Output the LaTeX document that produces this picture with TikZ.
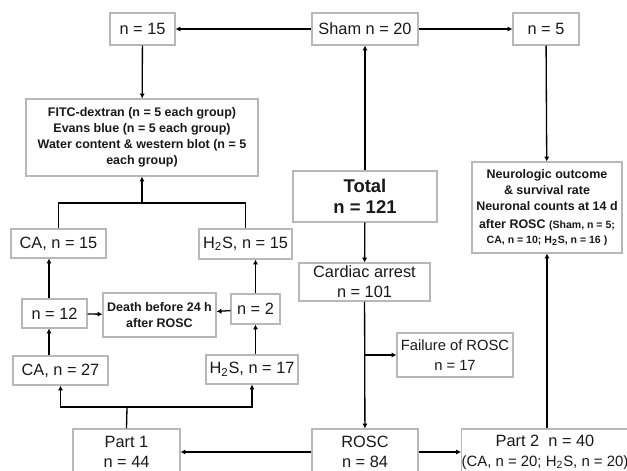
\documentclass[tikz,border=0pt]{standalone}
\usepackage{fontspec}
\setmainfont{Liberation Sans}
\usetikzlibrary{positioning,arrows.meta}
\tikzset{
  flowarrow/.style={-{Latex[length=2.8pt,width=3pt]}, line width=0.75pt},
  flowline/.style={line width=0.75pt},
  countbox/.style={draw=black!28, line width=0.6pt, fill=white, inner sep=0pt, align=center, text=black!90, font=\fontsize{9.3}{11.3}\selectfont},
  detailbox/.style={countbox, font=\bfseries\fontsize{7.1}{9.1}\selectfont},
  totalbox/.style={countbox, font=\bfseries\fontsize{10.5}{11.8}\selectfont}
}
\newcommand{\hts}{H\textsubscript{2}S}

\begin{document}
\begin{tikzpicture}[x=0.02cm, y=-0.02cm]
  \useasboundingbox (0,0) rectangle (627,471);
  % sham arm
  \node[countbox, minimum width=1.3cm, minimum height=0.64cm] (shamleft) at (142.5,29) {n = 15};
  \node[countbox, minimum width=2.12cm, minimum height=0.64cm] (sham) at (365,29) {Sham n = 20};
  \node[countbox, minimum width=1.32cm, minimum height=0.64cm] (shamright) at (546,29) {n = 5};
  \node[detailbox, minimum width=4.64cm, minimum height=1.54cm] (assays) at (142,137.5) {FITC-dextran (n = 5 each group)\\ Evans blue (n = 5 each group)\\ Water content \& western blot (n = 5\\ each group)};
  \node[totalbox, minimum width=2.88cm, minimum height=1.02cm] (total) at (365,196.5) {Total\\ n = 121};
  \node[detailbox, minimum width=3.0cm, minimum height=1.82cm] (outcome) at (547,207.5) {Neurologic outcome\\ \& survival rate\\ Neuronal counts at 14 d\\[1.4pt] after ROSC {\fontsize{6}{7}\selectfont (Sham, n = 5;}\\[-1pt] {\fontsize{6}{7.5}\selectfont CA, n = 10; \hts, n = 16 )}};
  % part 1 groups
  \node[countbox, minimum width=1.9cm, minimum height=0.58cm] (caend) at (58.5,243.5) {CA, n = 15};
  \node[countbox, minimum width=1.86cm, minimum height=0.6cm] (hsend) at (245.5,244) {\hts, n = 15};
  \node[countbox, minimum width=2.62cm, minimum height=0.76cm] (arrest) at (364.5,282) {Cardiac arrest\\ n = 101};
  \node[countbox, minimum width=1.3cm, minimum height=0.58cm] (camid) at (54.5,313.5) {n = 12};
  \node[detailbox, font=\bfseries\fontsize{7.1}{8.6}\selectfont, minimum width=2.26cm, minimum height=0.88cm] (death) at (159.5,315) {Death before 24 h\\ after ROSC};
  \node[countbox, minimum width=0.98cm, minimum height=0.6cm] (hsmid) at (255.5,309) {n = 2};
  \node[countbox, font=\fontsize{8.4}{11.3}\selectfont, minimum width=2.32cm, minimum height=0.88cm] (failure) at (455,355) {Failure of ROSC\\ n = 17};
  \node[countbox, minimum width=1.9cm, minimum height=0.58cm] (castart) at (60.5,370.5) {CA, n = 27};
  \node[countbox, minimum width=1.84cm, minimum height=0.58cm] (hsstart) at (252,369.5) {\hts, n = 17};
  % bottom row
  \node[countbox, minimum width=2.14cm, minimum height=0.92cm] (part1) at (126.5,452) {Part 1\\ n = 44};
  \node[countbox, minimum width=2.12cm, minimum height=0.92cm] (rosc) at (365,452) {ROSC\\ n = 84};
  \node[countbox, minimum width=3.24cm, minimum height=0.92cm] (part2) at (545,452) {Part 2~~n = 40\\ {\fontsize{8.5}{11.3}\selectfont(CA, n = 20; \hts, n = 20)}};
  % helper points
  \coordinate (cacol) at (49,0);
  \coordinate (split) at (127,407);
  \coordinate (merge) at (142,203);
  % connectors
  \draw[flowarrow] (sham) -- (shamleft);
  \draw[flowarrow] (sham) -- (shamright);
  \draw[flowarrow] (shamleft) -- (assays);
  \draw[flowarrow] (total) -- (sham);
  \draw[flowarrow] (shamright) -- (outcome);
  \draw[flowarrow] (total) -- (arrest);
  \draw[flowarrow] (arrest) -- (rosc);
  \draw[flowarrow] (arrest.south |- failure.west) -- (failure.west);
  \draw[flowarrow] (rosc) -- (part1);
  \draw[flowarrow] (rosc) -- (part2);
  \draw[flowarrow] (part2.north -| outcome.south) -- (outcome.south);
  \draw[flowline] (part1.north) -- (split);
  \draw[flowarrow] (split) -| (castart.south);
  \draw[flowarrow] (split) -| (hsstart.south);
  \draw[flowarrow] (castart.north -| cacol) -- (camid.south -| cacol);
  \draw[flowarrow] (camid.north -| cacol) -- (caend.south -| cacol);
  \draw[flowarrow] (camid) -- (death);
  \draw[flowarrow] (hsmid) -- (death);
  \draw[flowarrow] (hsstart.north -| hsmid.south) -- (hsmid.south);
  \draw[flowarrow] (hsmid) -- (hsmid.north |- hsend.south);
  \draw[flowline] (caend.north) |- (merge) -| (hsend.north);
  \draw[flowarrow] (merge) -- (assays);
\end{tikzpicture}
\end{document}
